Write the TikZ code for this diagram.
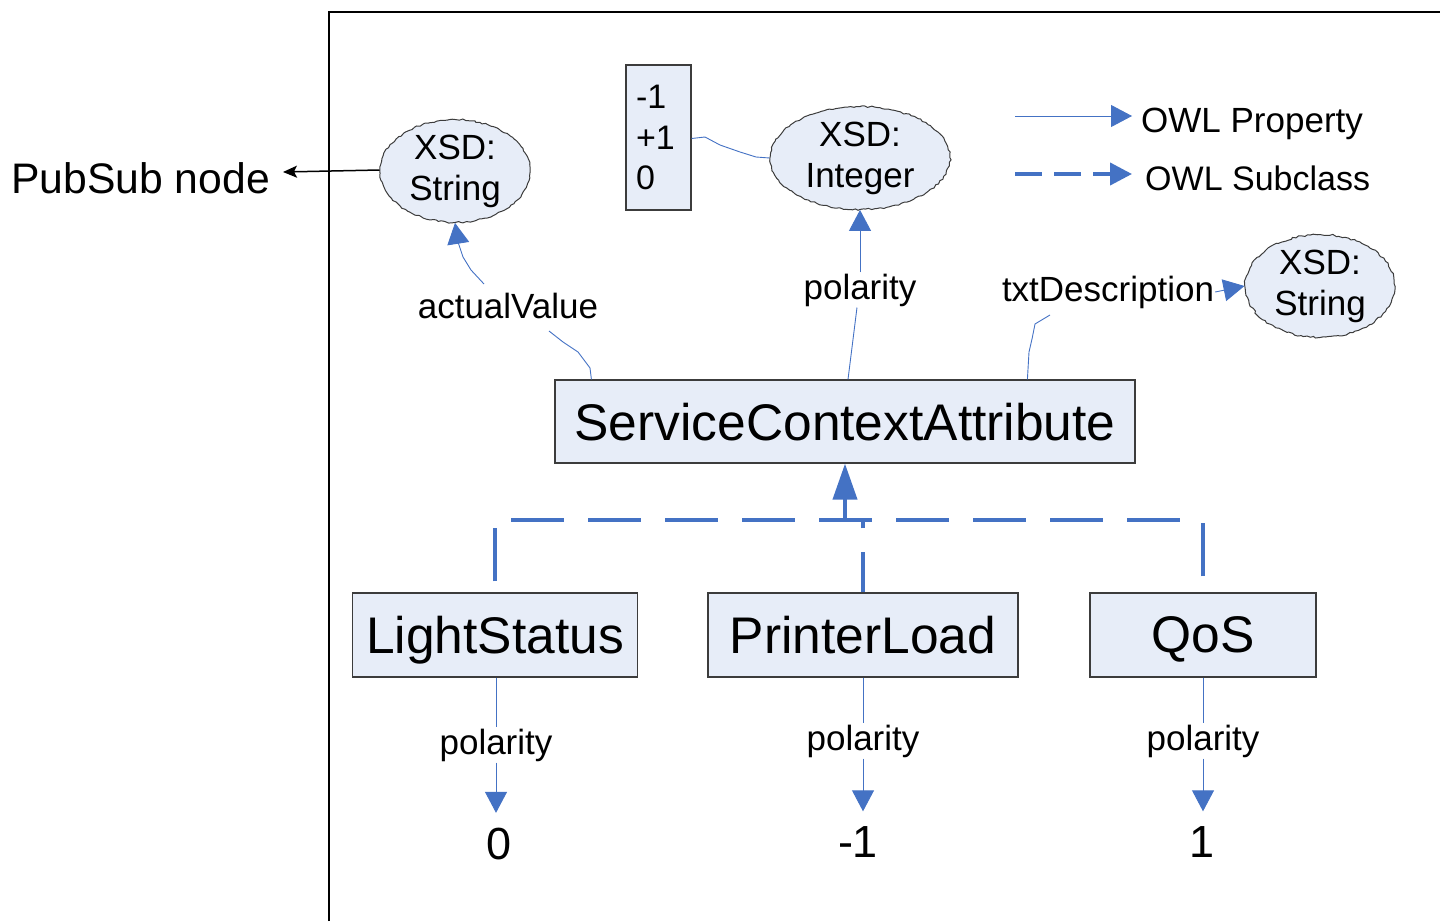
\documentclass[tikz,border=0pt]{standalone}
\usepackage{fontspec}
\setmainfont{Liberation Sans}
\usetikzlibrary{arrows.meta,shapes.geometric,decorations.pathmorphing}
\definecolor{owlblue}{RGB}{68,114,196}
\definecolor{boxfill}{RGB}{231,237,248}
\definecolor{edgegray}{RGB}{60,60,60}
\tikzset{
  cls/.style={draw=edgegray, line width=1.2pt, fill=boxfill, inner sep=0pt,
    text depth=0pt, font=\fontsize{51.5}{60}\selectfont},
  xsd/.style={ellipse, draw=edgegray, line width=1pt, fill=boxfill, inner sep=0pt,
    align=center, font=\fontsize{35}{41}\selectfont,
    decorate, decoration={random steps, segment length=3pt, amplitude=0.9pt}},
  lbl/.style={inner sep=1pt, font=\fontsize{35}{40}\selectfont},
  numval/.style={inner xsep=1pt, inner ysep=15pt, font=\fontsize{45}{50}\selectfont},
  prop/.style={draw=owlblue, line width=0.9pt},
  propar/.style={prop, -{Triangle[length=21pt,width=22pt]}},
  sub/.style={draw=owlblue, line width=4pt, dash pattern=on 53pt off 24pt},
}
\begin{document}
\begin{tikzpicture}[x=1pt,y=-1pt]
\useasboundingbox (0,0) rectangle (1440,921);

% enclosing frame
\draw[line width=2pt] (329,921) -- (329,12) -- (1440,12);

% datatype ellipses and enumeration box
\node[xsd, minimum width=150pt, minimum height=90pt] (s1) at (455,171) {XSD:\\String};
\node[xsd, minimum width=180pt, minimum height=90pt] (int) at (860,158) {XSD:\\Integer};
\node[xsd, minimum width=150pt, minimum height=92pt] (s2) at (1320,286) {XSD:\\String};
\node[draw=edgegray, line width=1.2pt, fill=boxfill, minimum height=145pt,
      inner xsep=10pt, inner ysep=0pt, text width=45pt, align=left,
      font=\fontsize{34}{40.5}\selectfont] (vals) at (658.5,137.5) {-1\\+1\\0};

% classes
\node[cls, minimum width=580pt, minimum height=83pt] (sca) at (845,421.5) {ServiceContextAttribute};
\node[cls, minimum width=285pt, minimum height=84pt] (ls) at (495,635) {LightStatus};
\node[cls, minimum width=310pt, minimum height=84pt] (pl) at (863,635) {PrinterLoad};
\node[cls, minimum width=226pt, minimum height=84pt] (qos) at (1203,635) {QoS};

% PubSub node
\node[anchor=base west, inner sep=0pt, font=\fontsize{42.7}{50}\selectfont] (pubsub) at (11,193) {PubSub node};
\coordinate (pstip) at (283,172);
\draw[line width=1.5pt, -{Stealth[length=14pt,width=12pt,inset=3pt]}] ([yshift=1pt]s1.west) -- (pstip);

% property labels
\node[lbl] (av) at (508,306) {actualValue};
\node[lbl] (pol) at (860,290) {polarity};
\node[lbl] (td) at (1108,292) {txtDescription};

% actualValue
\coordinate (av1) at (590,368);
\coordinate (av2) at (578,352);
\coordinate (av3) at (563,342);
\coordinate (av4) at (549,331);
\draw[prop] ([xshift=37pt]sca.north west) -- (av1) -- (av2) -- (av3) -- (av4);
\coordinate (au1) at (484,284);
\coordinate (au2) at (471,270);
\coordinate (au3) at (463,257);
\coordinate (au4) at (458,242);
\draw[propar] (au1) -- (au2) -- (au3) -- (au4) -- (s1.south);

% polarity (top)
\draw[prop] ([xshift=3pt]sca.north) -- ([xshift=-3pt]pol.south);
\draw[propar] (pol.north) -- (int.south);

% txtDescription
\coordinate (td1) at (1029,352);
\coordinate (td2) at (1032,339);
\coordinate (td3) at (1035,324);
\coordinate (td4) at (1050,315);
\draw[prop] ([xshift=473pt]sca.north west) -- (td1) -- (td2) -- (td3) -- (td4);
\draw[propar] (td.east) -- (s2.west);

% enumeration link
\coordinate (vl1) at (705,137);
\coordinate (vl2) at (720,145);
\coordinate (vl3) at (740,152);
\coordinate (vl4) at (756,157);
\draw[prop] ([yshift=-1pt]vals.east) -- (vl1) -- (vl2) -- (vl3) -- (vl4) -- (int.west);

% subclass hierarchy
\coordinate (bar) at (845,520);
\draw[sub, dash phase=66pt] (ls.north) -- (ls.north |- bar);
\draw[sub, dash phase=13pt] (pl.north) -- (pl.north |- bar);
\draw[sub, dash phase=61pt] (qos.north) -- (qos.north |- bar);
\draw[sub, dash phase=61pt] (ls.north |- bar) -- (qos.north |- bar);
\draw[owlblue, line width=4pt, -{Triangle[length=36pt,width=24pt]}] ([yshift=2pt]bar) -- (sca.south);

% polarity values of the subclasses
\node[lbl] (p1) at (496,745) {polarity};
\node[lbl] (p2) at (863,741) {polarity};
\node[lbl] (p3) at (1203,741) {polarity};
\node[numval] (v1) at (499,844) {0};
\node[numval] (v2) at (858,842) {-1};
\node[numval] (v3) at (1202,842) {1};
\draw[prop] (p1.north |- ls.south) -- (p1.north);
\draw[propar] (p1.south) -- (p1.south |- v1.north);
\draw[prop] (p2.north |- pl.south) -- (p2.north);
\draw[propar] (p2.south) -- (p2.south |- v2.north);
\draw[prop] (p3.north |- qos.south) -- (p3.north);
\draw[propar] (p3.south) -- (p3.south |- v3.north);

% legend
\coordinate (lpa) at (1015,116);
\coordinate (lpb) at (1132,116);
\coordinate (lsa) at (1015,174);
\coordinate (lsb) at (1132,174);
\draw[propar] (lpa) -- (lpb);
\draw[owlblue, line width=4pt, dash pattern=on 27pt off 12pt, -{Triangle[length=22pt,width=22pt]}] (lsa) -- (lsb);
\node[lbl, anchor=base west, inner sep=0pt] (lgp) at (1141,132) {OWL Property};
\node[lbl, anchor=base west, inner sep=0pt, font=\fontsize{34}{40}\selectfont] (lgs) at (1145,190) {OWL Subclass};
\end{tikzpicture}
\end{document}
